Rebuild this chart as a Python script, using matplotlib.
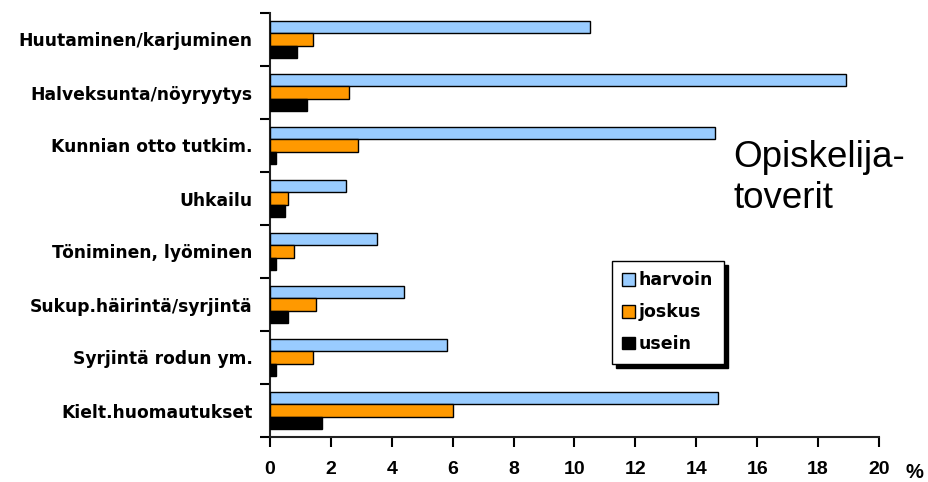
import matplotlib
matplotlib.use("Agg")
import matplotlib.pyplot as plt
import numpy as np

categories = ["Huutaminen/karjuminen", "Halveksunta/nöyryytys", "Kunnian otto tutkim.",
              "Uhkailu", "Töniminen, lyöminen", "Sukup.häirintä/syrjintä",
              "Syrjintä rodun ym.", "Kielt.huomautukset"]
harvoin = [10.5, 18.9, 14.6, 2.5, 3.5, 4.4, 5.8, 14.7]
joskus = [1.4, 2.6, 2.9, 0.6, 0.8, 1.5, 1.4, 6.0]
usein = [0.9, 1.2, 0.2, 0.5, 0.2, 0.6, 0.2, 1.7]
series_names = ["harvoin", "joskus", "usein"]
colors = ["#99ccff", "#ff9900", "#000000"]
xticks = [0, 2, 4, 6, 8, 10, 12, 14, 16, 18, 20]

plt.rcParams['font.family'] = ['Liberation Sans', 'DejaVu Sans']

fig = plt.figure(figsize=(9.29, 4.82), dpi=100)
ax = fig.add_axes([270/929, 1-437/482, 609/929, 424/482])

n = len(categories)
centers = np.arange(n)
bh = 0.233
data = [harvoin, joskus, usein]
for i, (vals, name, c) in enumerate(zip(data, series_names, colors)):
    ax.barh(centers + (i - 1) * bh, vals, height=bh, color=c, edgecolor="black",
            linewidth=1.0, label=name, zorder=3)

ax.set_ylim(n - 0.5, -0.5)
ax.set_xlim(0, 20)
ax.set_yticks(centers)
ax.set_yticklabels(categories, fontsize=12.3, fontweight="bold",
                   family=["DejaVu Sans"])
ax.set_yticks(np.arange(n + 1) - 0.5, minor=True)
ax.tick_params(axis="y", which="major", length=0, pad=12.5)
ax.tick_params(axis="y", which="minor", length=7, width=1.5, direction="out")
ax.set_xticks(xticks)
ax.set_xticklabels([str(v) for v in xticks], fontsize=14, fontweight="bold")
ax.tick_params(axis="x", length=7, width=1.5, direction="out", pad=10)

for s in ["top", "right"]:
    ax.spines[s].set_visible(False)
for s in ["left", "bottom"]:
    ax.spines[s].set_linewidth(1.5)
    ax.spines[s].set_color("#222222")

ax.text(906/929, 1-472/482, "%", transform=fig.transFigure, fontsize=14.5,
        fontweight="bold", ha="left", va="center")
ax.text(733/929, 1-178/482, "Opiskelija-\ntoverit", transform=fig.transFigure,
        fontsize=26.5, ha="left", va="center", linespacing=1.2)

leg = ax.legend(loc="upper left", bbox_to_anchor=((612-270)/609, (437-261)/424),
                borderaxespad=0, frameon=True, fancybox=False,
                prop={"weight": "bold", "size": 12.5, "family": ["DejaVu Sans"]},
                handlelength=0.75, handleheight=0.75, handletextpad=0.2,
                labelspacing=0.8, borderpad=0.6,
                shadow={"ox": 3, "oy": -3, "color": "black", "alpha": 1})
leg.get_frame().set_edgecolor("black")
leg.get_frame().set_linewidth(1.0)

fig.savefig("out.png", dpi=100)
